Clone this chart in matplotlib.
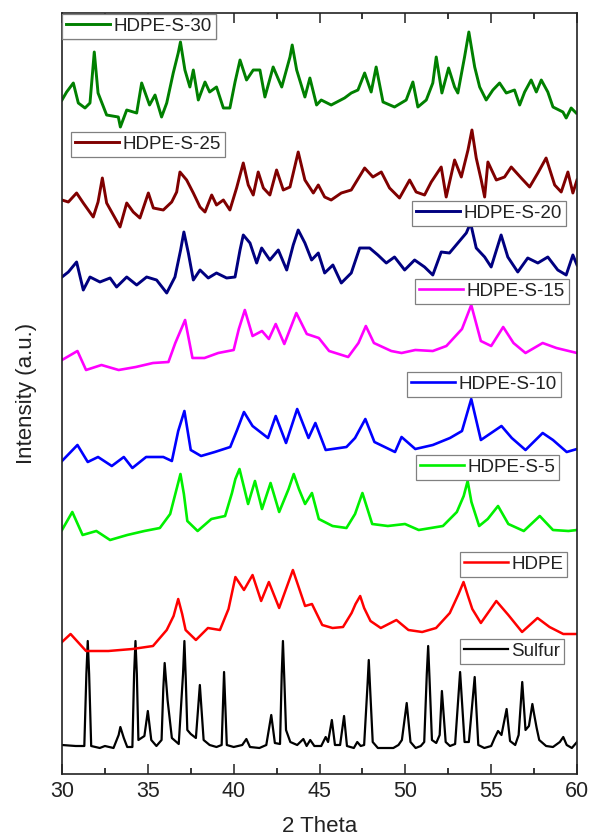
import matplotlib
matplotlib.use("Agg")
import matplotlib.pyplot as plt
from matplotlib.ticker import MultipleLocator

plt.rcParams['font.family'] = ['Liberation Sans', 'DejaVu Sans']

# ---------------- data (2 theta, intensity in a.u.) ----------------
sulfur_x = [30.0, 30.8, 31.3, 31.42, 31.5, 31.58, 31.7, 32.2, 32.5, 33.0, 33.3, 33.4, 33.6, 33.8, 34.1,
            34.2, 34.28, 34.36, 34.45, 34.8, 35.0, 35.2, 35.5, 35.8, 35.9, 35.98, 36.15, 36.4, 36.8,
            37.05, 37.13, 37.21, 37.3, 37.5, 37.8, 38.03, 38.25, 38.6, 39.0, 39.3, 39.44, 39.6, 40.0,
            40.5, 40.74, 40.95, 41.5, 41.9, 42.19, 42.4, 42.7, 42.8, 42.87, 42.95, 43.05, 43.3, 43.7,
            44.06, 44.25, 44.46, 44.7, 45.1, 45.36, 45.5, 45.72, 45.9, 46.2, 46.43, 46.6, 47.0, 47.2,
            47.4, 47.6, 47.8, 47.87, 47.95, 48.1, 48.4, 48.8, 49.3, 49.6, 49.8, 50.08, 50.3, 50.6,
            50.9, 51.1, 51.25, 51.33, 51.41, 51.55, 51.8, 52.0, 52.13, 52.35, 52.6, 52.9, 53.19,
            53.45, 53.7, 54.04, 54.25, 54.6, 55.0, 55.2, 55.4, 55.6, 55.9, 56.1, 56.4, 56.6, 56.81,
            57.0, 57.2, 57.4, 57.5, 57.65, 57.8, 58.2, 58.6, 59.0, 59.2, 59.4, 59.7, 60.0]
sulfur_y = [29, 28, 28, 100, 133, 100, 28, 26, 28, 26, 39, 47, 36, 27, 27,
            100, 133, 100, 34, 38, 63, 34, 28, 34, 85, 111, 74, 36, 30,
            100, 133, 95, 44, 40, 36, 89, 34, 29, 27, 29, 102, 29, 27,
            29, 35, 27, 26, 29, 59, 31, 30, 100, 133, 95, 44, 32, 29,
            35, 28, 34, 28, 28, 37, 32, 54, 29, 29, 58, 28, 26, 32,
            28, 29, 90, 114, 85, 32, 26, 26, 26, 29, 34, 71, 32, 26,
            28, 32, 100, 128, 95, 34, 31, 39, 83, 32, 28, 30, 102,
            32, 32, 97, 29, 26, 28, 36, 43, 39, 65, 33, 29, 39, 92,
            44, 48, 70, 60, 46, 34, 28, 27, 32, 37, 29, 26, 32]

hdpe_x = [30.0, 30.5, 31.4, 32.7, 34.1, 35.3, 36.1, 36.5, 36.77, 37.0, 37.2, 37.8, 38.5, 39.2, 39.7,
          40.1, 40.6, 41.1, 41.6, 42.05, 42.65, 43.45, 44.16, 44.56, 45.16, 45.76, 46.37, 46.87,
          47.1, 47.37, 47.6, 47.97, 48.57, 49.48, 50.18, 50.98, 51.79, 52.59, 53.1, 53.39, 53.65,
          53.9, 54.4, 55.3, 56.0, 56.8, 57.7, 58.4, 59.2, 60.0]
hdpe_y = [132, 140, 123, 123, 125, 128, 144, 158, 175, 160, 144, 134, 146, 144, 165,
          197, 184, 199, 173, 192, 166, 204, 168, 170, 149, 146, 147, 161,
          170, 178, 166, 153, 146, 154, 144, 142, 146, 161, 180, 192, 178,
          165, 151, 173, 159, 142, 156, 147, 140, 140]

s5_x = [30.0, 30.6, 31.2, 32.0, 32.8, 33.8, 34.8, 35.7, 36.3, 36.6, 36.9, 37.1, 37.3, 37.9, 38.7,
        39.5, 39.9, 40.1, 40.34, 40.84, 41.24, 41.65, 42.15, 42.65, 43.2, 43.5, 43.8, 44.16, 44.56,
        44.96, 45.76, 46.57, 47.07, 47.5, 48.07, 48.98, 49.98, 50.78, 52.19, 53.0, 53.4, 53.63,
        53.85, 54.3, 54.8, 55.4, 56.0, 56.9, 57.83, 58.6, 59.5, 60.0]
s5_y = [244, 262, 239, 243, 234, 239, 243, 246, 260, 280, 300, 280, 253, 243, 255,
        258, 281, 295, 305, 270, 293, 265, 291, 262, 285, 300, 285, 270, 281,
        255, 248, 246, 260, 281, 250, 248, 250, 244, 248, 262, 278, 293,
        272, 248, 255, 268, 250, 243, 258, 244, 243, 244]

s10_x = [30.0, 30.9, 31.5, 32.1, 32.9, 33.6, 34.1, 34.9, 35.9, 36.4, 36.77, 37.13, 37.5, 38.1, 38.9,
         39.8, 40.2, 40.6, 41.1, 42.0, 42.45, 43.05, 43.7, 44.36, 44.76, 45.36, 46.57, 47.07,
         47.67, 48.2, 49.4, 49.78, 50.58, 51.6, 52.6, 53.3, 53.84, 54.4, 55.6, 56.2, 57.0, 58.0,
         58.6, 59.4, 60.0]
s10_y = [313, 329, 312, 317, 308, 317, 306, 317, 317, 313, 343, 363, 324, 318, 322,
         327, 344, 362, 348, 336, 358, 331, 365, 336, 351, 324, 327, 336,
         355, 332, 322, 337, 325, 329, 336, 343, 375, 334, 348, 336, 324, 341,
         334, 322, 325]

s15_x = [30.0, 30.9, 31.4, 32.3, 33.3, 34.3, 35.3, 36.2, 36.6, 37.17, 37.6, 38.3, 39.1, 40.0, 40.3,
         40.65, 41.1, 41.65, 42.05, 42.45, 42.95, 43.65, 44.26, 44.96, 45.56, 46.67, 47.27, 47.7,
         48.17, 49.18, 49.78, 50.58, 51.6, 52.39, 53.3, 53.84, 54.4, 55.0, 55.7, 56.3, 57.0, 58.0,
         58.8, 60.0]
s15_y = [414, 423, 404, 409, 404, 407, 411, 412, 431, 454, 416, 416, 421, 424, 445,
         464, 438, 443, 435, 450, 430, 461, 440, 436, 423, 417, 431, 448,
         431, 423, 421, 424, 423, 428, 445, 469, 433, 428, 447, 431, 421, 431,
         426, 421]

s20_x = [30.0, 30.37, 30.85, 31.24, 31.63, 32.21, 32.8, 33.18, 33.77, 34.35, 34.93, 35.51, 36.1, 36.58,
         36.91, 37.1, 37.36, 37.65, 38.04, 38.52, 39.0, 39.59, 40.08, 40.37, 40.56, 40.95, 41.34,
         41.63, 42.11, 42.6, 43.09, 43.47, 43.76, 44.15, 44.54, 44.93, 45.3, 45.78, 46.27, 46.85,
         47.34, 47.92, 48.4, 48.89, 49.37, 49.96, 50.54, 51.12, 51.6, 52.09, 52.57, 53.06, 53.55,
         53.8, 54.13, 54.62, 55.0, 55.58, 55.97, 56.55, 57.13, 57.72, 58.3, 58.88, 59.37, 59.76, 60.0]
s20_y = [497, 502, 512, 484, 497, 492, 496, 487, 497, 489, 497, 494, 481, 497,
         524, 542, 521, 494, 504, 496, 501, 496, 497, 524, 539, 531, 511,
         526, 514, 524, 504, 529, 544, 531, 514, 521, 501, 509, 491, 501,
         526, 526, 519, 511, 517, 504, 514, 507, 499, 522, 521, 531, 541,
         551, 526, 517, 507, 539, 517, 502, 516, 511, 517, 504, 499, 519, 509]

s25_x = [30.0, 30.37, 30.85, 31.24, 31.82, 32.1, 32.35, 32.6, 32.99, 33.38, 33.77, 34.15, 34.54, 35.03,
         35.32, 35.9, 36.39, 36.68, 36.87, 37.26, 37.65, 38.04, 38.33, 38.72, 39.0, 39.4, 39.78,
         40.17, 40.56, 40.85, 41.14, 41.43, 41.73, 42.11, 42.5, 42.89, 43.28, 43.76, 44.15, 44.64,
         44.93, 45.3, 45.68, 46.27, 46.85, 47.63, 48.11, 48.6, 49.08, 49.66, 50.25, 50.63, 51.12,
         51.51, 52.09, 52.38, 52.87, 53.26, 53.65, 53.88, 54.13, 54.42, 54.62, 54.81, 55.3, 55.78,
         56.17, 56.75, 57.24, 57.72, 58.2, 58.7, 59.08, 59.47, 59.76, 60.0]
s25_y = [574, 572, 581, 571, 557, 572, 596, 571, 559, 547, 571, 562, 556, 581,
         566, 564, 572, 582, 602, 594, 581, 567, 562, 579, 569, 574, 564,
         586, 611, 589, 579, 602, 586, 579, 604, 584, 587, 622, 594, 581,
         589, 577, 574, 581, 584, 606, 597, 602, 586, 576, 594, 582, 579,
         592, 607, 577, 614, 597, 624, 644, 616, 594, 577, 612, 594, 597,
         607, 596, 587, 601, 616, 589, 582, 602, 581, 594]

s30_x = [30.0, 30.27, 30.66, 30.95, 31.34, 31.63, 31.88, 32.1, 32.6, 33.28, 33.4, 33.77, 34.35, 34.64,
         35.1, 35.42, 35.8, 36.1, 36.48, 36.77, 36.9, 37.16, 37.45, 37.65, 37.94, 38.33, 38.6, 39.0,
         39.4, 39.78, 40.08, 40.37, 40.75, 41.14, 41.53, 41.82, 42.3, 42.8, 43.28, 43.41, 43.67,
         44.15, 44.44, 44.83, 45.1, 45.68, 46.46, 46.85, 47.24, 47.63, 48.01, 48.3, 48.7, 49.37,
         50.05, 50.44, 50.73, 51.22, 51.6, 51.8, 52.13, 52.52, 52.87, 53.06, 53.45, 53.7, 54.04,
         54.33, 54.71, 55.1, 55.49, 55.88, 56.36, 56.66, 56.95, 57.33, 57.63, 57.92, 58.3, 58.6,
         59.18, 59.37, 59.66, 59.95]
s30_y = [674, 682, 691, 671, 666, 671, 722, 681, 659, 657, 647, 664, 661, 691,
         669, 679, 657, 671, 701, 721, 732, 704, 687, 704, 674, 692, 682, 687,
         666, 666, 692, 714, 694, 704, 704, 677, 707, 687, 717, 729, 704,
         677, 696, 669, 674, 669, 676, 681, 684, 701, 682, 707, 672, 667,
         674, 692, 667, 674, 691, 717, 681, 706, 687, 681, 717, 742, 707,
         687, 674, 684, 691, 681, 684, 669, 682, 694, 682, 694, 682, 667,
         662, 656, 666, 661]

labels = ['Sulfur', 'HDPE', 'HDPE-S-5', 'HDPE-S-10', 'HDPE-S-15', 'HDPE-S-20', 'HDPE-S-25', 'HDPE-S-30']
series_x = [sulfur_x, hdpe_x, s5_x, s10_x, s15_x, s20_x, s25_x, s30_x]
series_y = [sulfur_y, hdpe_y, s5_y, s10_y, s15_y, s20_y, s25_y, s30_y]
x_ticks = [30, 35, 40, 45, 50, 55, 60]

# ---------------- styles / layout ----------------
colors = ['#000000', '#ff0000', '#00f000', '#0000ff', '#ff00ff', '#000080', '#800000', '#008000']
widths = [1.6, 1.8, 1.9, 1.9, 1.9, 2.1, 2.1, 2.1]
# legend box upper-left corners in figure pixels (x, y from top)
legend_pos = [(460, 639), (460, 552), (416, 455), (407, 372), (415, 279), (412, 201), (71, 132), (62, 14)]

W, H = 590, 839
fig = plt.figure(figsize=(W / 100, H / 100), dpi=100)
ax = fig.add_axes([62 / W, 1 - 774 / H, 515 / W, 761 / H])

lines = []
for xs, ys, c, lw in zip(series_x, series_y, colors, widths):
    ln, = ax.plot(xs, ys, color=c, lw=lw, solid_joinstyle='round')
    lines.append(ln)

ax.set_xlim(30, 60)
ax.set_ylim(0, 761)
ax.set_xticks(x_ticks)
ax.xaxis.set_minor_locator(MultipleLocator(2.5))
ax.set_yticks([])
ax.tick_params(axis='x', which='major', direction='in', length=7.5, width=1.1, top=True,
               labelsize=15.5, pad=5, colors='#222222')
ax.tick_params(axis='x', which='minor', direction='in', length=4, width=1.1, top=True)
for sp in ax.spines.values():
    sp.set_linewidth(1.2)
    sp.set_color('#222222')

ax.set_xlabel('2 Theta', fontsize=16, labelpad=10, color='#222222')
ax.set_ylabel('Intensity (a.u.)', fontsize=16, labelpad=18, color='#222222')

for ln, lab, (px, py) in zip(lines, labels, legend_pos):
    leg = ax.legend([ln], [lab], loc='upper left', bbox_to_anchor=(px / W, 1 - py / H),
                    bbox_transform=fig.transFigure, fontsize=13.5, frameon=True, fancybox=False,
                    edgecolor='#808080', framealpha=1, borderpad=0.2, handlelength=2.35,
                    handletextpad=0.2, borderaxespad=0)
    leg.get_frame().set_linewidth(0.9)
    for t in leg.get_texts():
        t.set_color('#222222')
    ax.add_artist(leg)

fig.savefig('out.png', dpi=100)
